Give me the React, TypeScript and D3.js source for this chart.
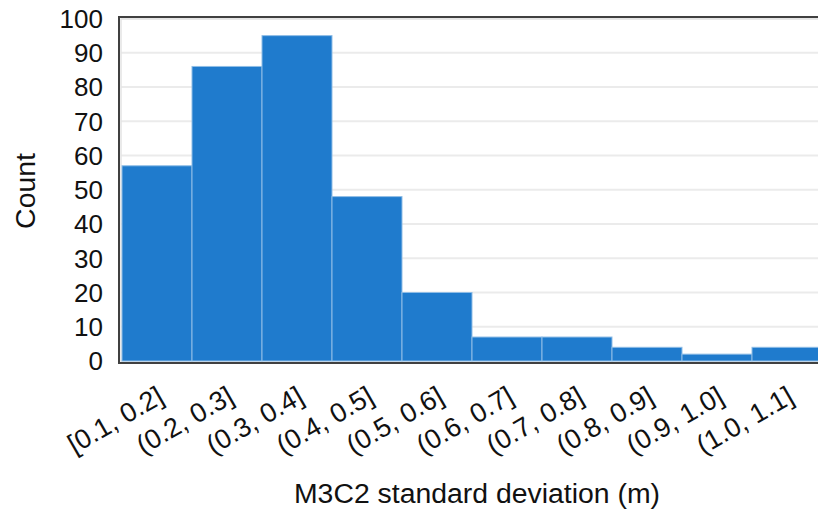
import React, { useEffect, useRef } from 'react';
import * as d3 from 'd3';

const binLabels = ['[0.1, 0.2]', '(0.2, 0.3]', '(0.3, 0.4]', '(0.4, 0.5]', '(0.5, 0.6]', '(0.6, 0.7]', '(0.7, 0.8]', '(0.8, 0.9]', '(0.9, 1.0]', '(1.0, 1.1]'];
const counts = [57, 86, 95, 48, 20, 7, 7, 4, 2, 4];
const yTicks = [0, 10, 20, 30, 40, 50, 60, 70, 80, 90, 100];

const App = () => {
    const ref = useRef<SVGSVGElement>(null);

    useEffect(() => {
        const svg = d3.select(ref.current);
        svg.selectAll('*').remove();

        const width = 818;
        const left = 119;
        const top = 17;
        const bottom = 363;

        const x = d3.scaleBand<string>().domain(binLabels).range([122, 822]).paddingInner(0);
        const y = d3.scaleLinear().domain([0, 100]).range([361, 18.5]);

        const font = 'Liberation Sans, Arial, sans-serif';

        // grid lines
        svg.append('g')
            .selectAll('line')
            .data(yTicks.filter(d => d > 0))
            .enter()
            .append('line')
            .attr('x1', left + 2)
            .attr('x2', width)
            .attr('y1', d => y(d))
            .attr('y2', d => y(d))
            .attr('stroke', '#ebebeb')
            .attr('stroke-width', 2);

        // inner light frame
        svg.append('path')
            .attr('d', `M${width},${bottom - 2}H${left + 2}V${top + 2}H${width}`)
            .attr('fill', 'none')
            .attr('stroke', '#e4e4e4')
            .attr('stroke-width', 1.5);

        // bars
        svg.append('g')
            .selectAll('rect')
            .data(counts)
            .enter()
            .append('rect')
            .attr('x', (d, i) => x(binLabels[i])!)
            .attr('y', d => y(d))
            .attr('width', x.bandwidth())
            .attr('height', d => y(0) - y(d))
            .attr('fill', '#1f7bcd')
            .attr('stroke', '#8fbde6')
            .attr('stroke-width', 1);

        // outer frame
        svg.append('path')
            .attr('d', `M${width},${bottom}H${left}V${top}H${width}`)
            .attr('fill', 'none')
            .attr('stroke', '#404040')
            .attr('stroke-width', 2);

        // y tick labels
        svg.append('g')
            .selectAll('text')
            .data(yTicks)
            .enter()
            .append('text')
            .attr('x', 103)
            .attr('y', d => y(d))
            .attr('dy', '0.36em')
            .attr('text-anchor', 'end')
            .attr('font-family', font)
            .attr('font-size', 26)
            .attr('fill', '#111')
            .text(d => d);

        // x tick labels
        svg.append('g')
            .selectAll('text')
            .data(binLabels)
            .enter()
            .append('text')
            .attr('transform', d => `translate(${x(d)! + x.bandwidth() / 2 - 1},${385}) rotate(-30)`)
            .attr('dy', '0.71em')
            .attr('text-anchor', 'end')
            .attr('font-family', font)
            .attr('font-size', 27)
            .attr('fill', '#111')
            .text(d => d);

        // axis titles
        svg.append('text')
            .attr('transform', `translate(35,191) rotate(-90)`)
            .attr('text-anchor', 'middle')
            .attr('font-family', font)
            .attr('font-size', 28.4)
            .attr('fill', '#111')
            .text('Count');

        svg.append('text')
            .attr('x', 477)
            .attr('y', 503)
            .attr('text-anchor', 'middle')
            .attr('font-family', font)
            .attr('font-size', 28.4)
            .attr('fill', '#111')
            .text('M3C2 standard deviation (m)');
    }, []);

    return (
        <svg ref={ref} width={818} height={510}
            style={{ position: 'absolute', left: 0, top: 0, background: '#fff' }} />
    );
};

export default App;
